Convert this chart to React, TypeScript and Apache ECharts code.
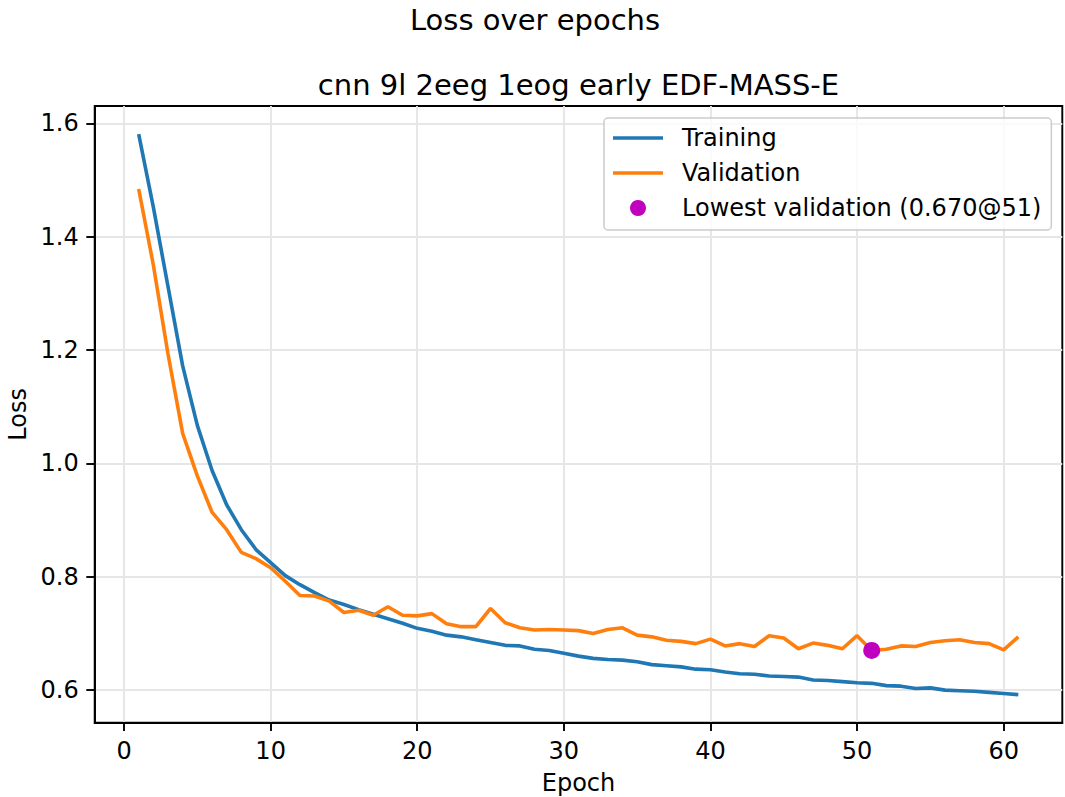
import React, { useEffect, useRef } from "react";
import * as echarts from "echarts";

// Per-epoch loss values (epochs 1..61)
const epochs: number[] = Array.from({ length: 61 }, (_, i) => i + 1);

const trainingLoss: number[] = [
  1.581, 1.452, 1.312, 1.172, 1.067, 0.988, 0.927, 0.883, 0.848, 0.825,
  0.802, 0.786, 0.772, 0.759, 0.751, 0.742, 0.734, 0.726, 0.718, 0.709,
  0.704, 0.697, 0.694, 0.689, 0.684, 0.679, 0.678, 0.672, 0.670, 0.665,
  0.660, 0.656, 0.654, 0.653, 0.650, 0.645, 0.643, 0.641, 0.637, 0.636,
  0.632, 0.629, 0.628, 0.625, 0.624, 0.623, 0.618, 0.617, 0.615, 0.613,
  0.612, 0.608, 0.607, 0.603, 0.604, 0.600, 0.599, 0.598, 0.596, 0.594,
  0.592,
];

const validationLoss: number[] = [
  1.484, 1.350, 1.193, 1.053, 0.978, 0.914, 0.883, 0.843, 0.832, 0.816,
  0.792, 0.767, 0.766, 0.757, 0.737, 0.741, 0.732, 0.747, 0.732, 0.731,
  0.735, 0.717, 0.712, 0.712, 0.744, 0.719, 0.710, 0.706, 0.707, 0.706,
  0.705, 0.700, 0.707, 0.710, 0.697, 0.694, 0.688, 0.686, 0.682, 0.690,
  0.678, 0.682, 0.677, 0.696, 0.692, 0.673, 0.683, 0.679, 0.673, 0.696,
  0.670, 0.672, 0.678, 0.677, 0.684, 0.687, 0.689, 0.684, 0.682, 0.671,
  0.694,
];

const xTicks: number[] = [0, 10, 20, 30, 40, 50, 60];
const yTicks: number[] = [0.6, 0.8, 1.0, 1.2, 1.4, 1.6];

const suptitle = "Loss over epochs";
const subtitle = "cnn 9l 2eeg 1eog early EDF-MASS-E";

const FONT = "DejaVu Sans";
const LINE_ICON = "path://M0,0H50V3.6H0Z";

export default function App() {
  const ref = useRef<HTMLDivElement>(null);

  useEffect(() => {
    if (!ref.current) return;
    const chart = echarts.init(ref.current, undefined, { renderer: "svg" });

    // best validation epoch
    let bestIdx = 0;
    validationLoss.forEach((v, i) => {
      if (v < validationLoss[bestIdx]) bestIdx = i;
    });
    const bestEpoch = epochs[bestIdx];
    const bestLoss = validationLoss[bestIdx];
    const bestName = `Lowest validation (${bestLoss.toFixed(3)}@${bestEpoch})`;

    // 5% margins around the data
    const allY = trainingLoss.concat(validationLoss);
    const yMinD = Math.min(...allY);
    const yMaxD = Math.max(...allY);
    const yPad = (yMaxD - yMinD) * 0.05;
    const xPad = (epochs[epochs.length - 1] - epochs[0]) * 0.05;

    const gridColor = "#e6e6e6";
    const textStyle = { fontFamily: FONT, fontSize: 24, color: "#000" };
    const titleStyle = { fontFamily: FONT, fontSize: 29, color: "#000", fontWeight: "normal" };
    const spine = { color: "#000", width: 1.9 };

    chart.setOption({
      animation: false,
      textStyle: { fontFamily: FONT },
      title: [
        {
          text: suptitle,
          left: 535,
          top: 5,
          textAlign: "center",
          padding: 0,
          textStyle: titleStyle,
        },
        {
          text: subtitle,
          left: 578.5,
          top: 70,
          textAlign: "center",
          padding: 0,
          textStyle: titleStyle,
        },
      ],
      grid: {
        left: 94.7,
        right: 2.7,
        top: 106,
        bottom: 74.3,
        containLabel: false,
        outerBoundsMode: "none",
        show: true,
        borderColor: "#000",
        borderWidth: 1.9,
        backgroundColor: "transparent",
      },
      legend: {
        orient: "vertical",
        left: 604,
        top: 118,
        padding: [8, 10, 10, 9],
        itemGap: 11,
        itemWidth: 50,
        itemHeight: 16,
        backgroundColor: "rgba(255,255,255,0.8)",
        borderColor: "#cccccc",
        borderWidth: 1.5,
        borderRadius: 4,
        textStyle: { ...textStyle, lineHeight: 24, padding: [0, 0, 0, 14] },
        data: [
          { name: "Training", icon: LINE_ICON },
          { name: "Validation", icon: LINE_ICON },
          { name: bestName, icon: "circle" },
        ],
      },
      xAxis: {
        type: "value",
        min: epochs[0] - xPad,
        max: epochs[epochs.length - 1] + xPad,
        axisLine: { show: true, onZero: false, lineStyle: spine },
        axisTick: {
          show: true,
          inside: false,
          length: 8.4,
          lineStyle: spine,
          customValues: xTicks,
        },
        axisLabel: {
          ...textStyle,
          margin: 16,
          customValues: xTicks,
          formatter: (v: number) => String(v),
        },
        splitLine: { show: true, lineStyle: { color: gridColor, width: 1.9 } },
        name: "Epoch",
        nameLocation: "middle",
        nameGap: 48,
        nameTextStyle: textStyle,
      },
      yAxis: {
        type: "value",
        min: yMinD - yPad,
        max: yMaxD + yPad,
        axisLine: { show: true, onZero: false, lineStyle: spine },
        axisTick: {
          show: true,
          inside: false,
          length: 8.4,
          lineStyle: spine,
          customValues: yTicks,
        },
        axisLabel: {
          ...textStyle,
          margin: 16,
          customValues: yTicks,
          formatter: (v: number) => v.toFixed(1),
        },
        splitLine: { show: true, lineStyle: { color: gridColor, width: 1.9 } },
        name: "Loss",
        nameLocation: "middle",
        nameGap: 64,
        nameRotate: 90,
        nameTextStyle: textStyle,
      },
      series: [
        {
          name: "Training",
          type: "line",
          symbol: "none",
          data: epochs.map((e, i) => [e, trainingLoss[i]]),
          lineStyle: { color: "#1f77b4", width: 3.6 },
          itemStyle: { color: "#1f77b4" },
          z: 2,
        },
        {
          name: "Validation",
          type: "line",
          symbol: "none",
          data: epochs.map((e, i) => [e, validationLoss[i]]),
          lineStyle: { color: "#ff7f0e", width: 3.6 },
          itemStyle: { color: "#ff7f0e" },
          z: 3,
        },
        {
          name: bestName,
          type: "scatter",
          symbol: "circle",
          symbolSize: 17,
          data: [[bestEpoch, bestLoss]],
          itemStyle: { color: "#bf00bf", opacity: 1 },
          z: 4,
        },
      ],
    });

    return () => chart.dispose();
  }, []);

  return (
    <div
      ref={ref}
      style={{ position: "fixed", left: 0, top: 0, width: 1065, height: 797, background: "#fff" }}
    />
  );
}
